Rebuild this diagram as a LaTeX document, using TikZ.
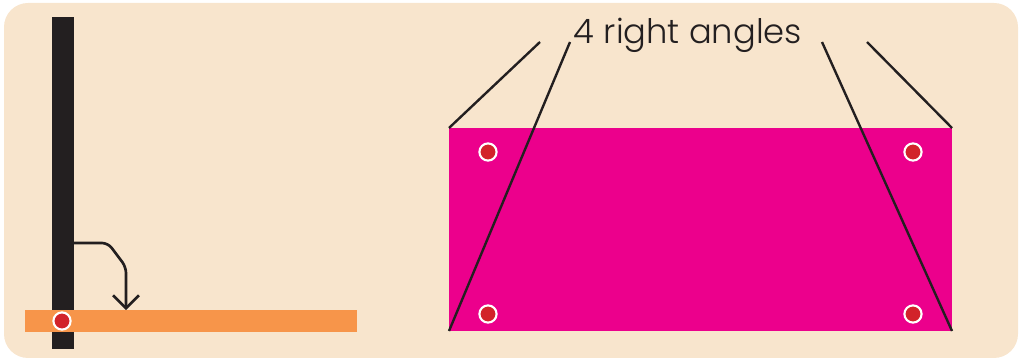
\documentclass[tikz,border=0pt]{standalone}
\usepackage{fontspec}
\setmainfont{Poppins Light}
\usepackage{xcolor}
\usetikzlibrary{positioning,calc,arrows.meta}

\definecolor{bgcream}{HTML}{F8E5CD}
\definecolor{poledark}{HTML}{231F20}
\definecolor{floororange}{HTML}{F7954A}
\definecolor{rectpink}{HTML}{EC008C}
\definecolor{dotred}{HTML}{D2232A}

\tikzset{
  block/.style={rectangle, inner sep=0pt, outer sep=0pt},
  corner dot/.style={circle, fill=dotred, draw=white, line width=1.5pt, minimum size=4.3mm, inner sep=0pt},
  leader/.style={poledark, line width=1.7pt},
}

\begin{document}
\begin{tikzpicture}[x=0.25mm, y=-0.25mm]
  \useasboundingbox (0,0) rectangle (1020,360);
  % background panel
  \fill[bgcream, rounded corners=6mm] (4,3) rectangle (1018,358);

  % left: pole standing on the floor
  \node[block, fill=poledark, minimum width=5.5mm, minimum height=83mm] (pole) at (63,183) {};
  \node[block, fill=floororange, minimum width=83mm, minimum height=5.5mm] (floor) at (191,321) {};
  \node[corner dot] (footdot) at (62,321) {};
  \coordinate (bendstart) at ($(pole.north east)+(0,226)$);
  \coordinate (drop) at (126,0);
  \draw[poledark, line width=1.9pt, rounded corners=1.5mm, -{Straight Barb[length=3.2mm,width=6.5mm]}]
    (bendstart) -- ++(34,0) -- ++(18,24) -- (drop |- floor.north);

  % right: rectangle with its four right angles
  \node[block, fill=rectpink, minimum width=125.75mm, minimum height=50.75mm] (rect) at (700.5,229.5) {};
  \foreach \i/\x/\y in {1/488/152, 2/913/152, 3/488/314, 4/913/314}
    \node[corner dot] (dot\i) at (\x,\y) {};

  \node[poledark, font=\fontsize{24}{30}\selectfont, inner sep=0pt] (label) at (688,35) {4 right angles};
  \coordinate (lead1) at (540,42);
  \coordinate (lead2) at (570,42);
  \coordinate (lead3) at (822,42);
  \coordinate (lead4) at (867,42);

  \draw[leader] (rect.north west) -- (lead1);
  \draw[leader] (rect.south west) -- (lead2);
  \draw[leader] (rect.south east) -- (lead3);
  \draw[leader] (rect.north east) -- (lead4);
\end{tikzpicture}
\end{document}
